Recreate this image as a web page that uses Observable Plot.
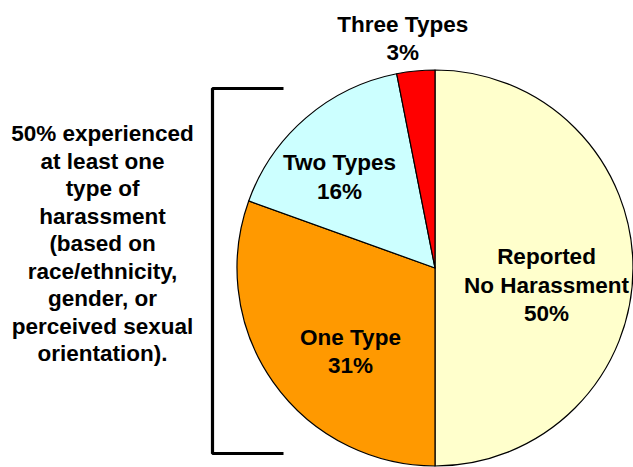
<!DOCTYPE html>
<html><head><meta charset="utf-8">
<script src="https://cdn.jsdelivr.net/npm/d3@7"></script>
<script src="https://cdn.jsdelivr.net/npm/@observablehq/plot@0.6"></script>
<style>html,body{margin:0;padding:0;background:#fff} svg{display:block}</style>
</head><body><div id="chart"></div>
<script>
// ---- data ----
const categories = ["Reported\nNo Harassment", "One Type", "Two Types", "Three Types"];
const values = [50, 30.5, 16.4, 3.1];
const percentLabels = ["50%", "31%", "16%", "3%"];
const colors = ["#FFFFCC", "#FF9900", "#CCFFFF", "#FF0000"];
const annotationLines = ["50% experienced", "at least one", "type of", "harassment", "(based on", "race/ethnicity,", "gender, or", "perceived sexual", "orientation)."];

// ---- layout ----
const W = 633, H = 467;
const cx = 435, cy = 268, R = 198;
const labelRadius = [112, 118, 134, 234];
const labelDx = [-1, 11.5, -8.7, -10];
const labelDy = [15, 14, 8.6, 1];
const font = "'Liberation Sans', Arial, Helvetica, sans-serif";
const fontSize = 22.5;

const pie = d3.pie().sort(null).value(d => d.value);
const slices = pie(categories.map((c, i) => ({category: c, value: values[i], color: colors[i]})));

const labelData = slices.map((s, i) => {
  const mid = (s.startAngle + s.endAngle) / 2;
  return {
    text: categories[i] + "\n" + percentLabels[i],
    x: cx + labelRadius[i] * Math.sin(mid) + labelDx[i],
    y: cy - labelRadius[i] * Math.cos(mid) + labelDy[i]
  };
});

const bracket = [
  {x: cx - 152, y: cy - 180},
  {x: cx - 223, y: cy - 180},
  {x: cx - 223, y: cy + 185},
  {x: cx - 152, y: cy + 185}
];

function pieMark(index, scales) {
  const sx = scales && scales.x ? scales.x : (v => v);
  const sy = scales && scales.y ? scales.y : (v => v);
  const arc = d3.arc().innerRadius(0).outerRadius(R);
  const g = d3.create("svg:g").attr("transform", `translate(${sx(cx)},${sy(cy)})`);
  g.selectAll("path").data(slices).join("path")
    .attr("d", arc)
    .attr("fill", d => d.data.color)
    .attr("stroke", "#000")
    .attr("stroke-width", 1.2)
    .attr("stroke-linejoin", "round");
  return g.node();
}

const chart = Plot.plot({
  width: W, height: H, margin: 0,
  x: {domain: [0, W], range: [0, W], axis: null},
  y: {domain: [0, H], range: [0, H], axis: null},
  style: {background: "#fff"},
  marks: [
    pieMark,
    Plot.line(bracket, {x: "x", y: "y", stroke: "#000", strokeWidth: 3.2, strokeLinejoin: "miter", strokeLinecap: "butt"}),
    Plot.text(labelData, {x: "x", y: "y", text: "text", fill: "#000", fontSize, fontWeight: "bold", fontFamily: font, lineHeight: 1.25, lineAnchor: "middle", textAnchor: "middle"}),
    Plot.text([annotationLines.join("\n")], {x: 102, y: 242, text: d => d, fill: "#000", fontSize, fontWeight: "bold", fontFamily: font, lineHeight: 1.22, lineAnchor: "middle", textAnchor: "middle"})
  ]
});
document.getElementById("chart").appendChild(chart);
</script>
</body></html>
